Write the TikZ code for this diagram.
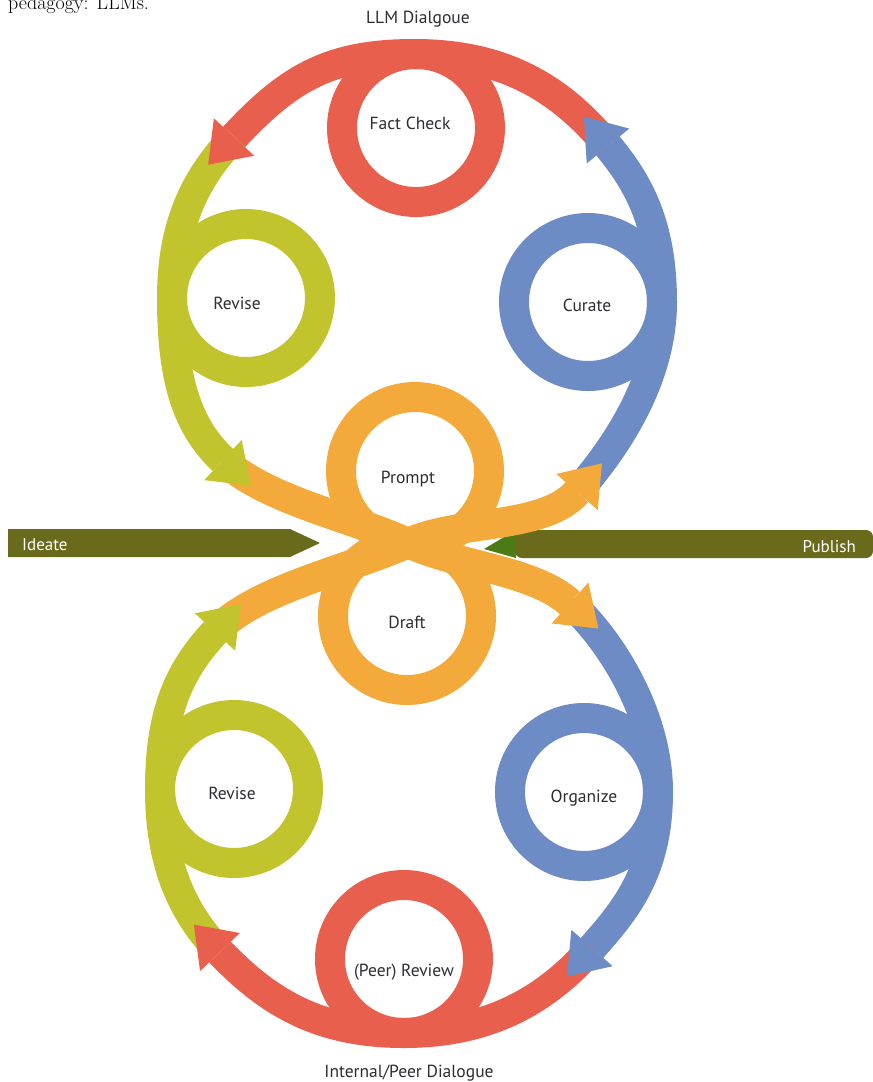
\documentclass[tikz,border=0pt]{standalone}
\usepackage{fontspec}
\newfontfamily\labfont{PT Sans}
\usetikzlibrary{calc}
\definecolor{cRed}{RGB}{233,95,78}
\definecolor{cGreen}{RGB}{193,196,44}
\definecolor{cBlue}{RGB}{109,139,196}
\definecolor{cOrange}{RGB}{244,170,58}
\definecolor{cOlive}{RGB}{106,106,28}
\definecolor{cText}{RGB}{45,45,50}
\begin{document}
\begin{tikzpicture}[x=1pt,y=-1pt,
  band/.style={line width=30pt},
  ring/.style={line width=30pt},
  lbl/.style={font=\labfont\fontsize{17.5}{20}\selectfont, text=cText, anchor=base, inner sep=0pt},
  barlbl/.style={font=\labfont\fontsize{17}{20}\selectfont, text=white, inner sep=0pt}]
\useasboundingbox (0,0) rectangle (873,1082);
\clip (0,0) rectangle (873,1082);
\fill[white] (0,0) rectangle (873,1082);

% cut-off caption line
\node[anchor=base west, inner sep=0pt, font=\fontsize{20}{24}\selectfont] (ped) at (8,9) {pedagogy: LLMs.};

% key points of the figure-eight
\coordinate (C) at (408,543);
\coordinate (bOB) at (577,492);   \coordinate (tOB) at (601.9,463.3);
\coordinate (bBR) at (608,146);   \coordinate (tBR) at (583.9,116.6);
\coordinate (bRG) at (234,137);   \coordinate (tRG) at (208.2,164.7);
\coordinate (bGO) at (223,460);   \coordinate (tGO) at (250.7,485.8);
\coordinate (bOB2) at (570,603);  \coordinate (tOB2) at (598.5,628.5);
\coordinate (bBR2) at (592,948);  \coordinate (tBR2) at (566.9,976.5);
\coordinate (bRG2) at (220,952);  \coordinate (tRG2) at (193.8,924.6);
\coordinate (bGO2) at (215,632);  \coordinate (tGO2) at (240.8,604.3);
\coordinate (R) at (662,302);  \coordinate (Top) at (414,54);  \coordinate (L) at (172,298);
\coordinate (R2) at (658,792); \coordinate (Bot) at (404,1033); \coordinate (L2) at (160,789);

% olive bar
\fill[cOlive] (8,529) -- (290,529) -- (320,543) -- (290,557) -- (8,557) -- cycle;
\fill[cOlive, rounded corners=7pt] (515,530) -- (873,530) -- (873,558) -- (515,558) -- cycle;
\fill[cOlive!80!green!90!black] (484,549) -- (516,530) -- (516,558) -- cycle;
\node[barlbl, anchor=west] (ideate) at (22,545) {Ideate};
\node[barlbl, anchor=east] (publish) at (856,547) {Publish};

% rings
\draw[ring, cRed] (416,128) circle[radius=74pt];
\draw[ring, cGreen] (246,298) circle[radius=74pt];
\draw[ring, cBlue] (588,302) circle[radius=74pt];
\draw[ring, cOrange] (415,471) circle[radius=74pt];
\draw[ring, cOrange] (407,616) circle[radius=74pt];
\draw[ring, cGreen] (234,789) circle[radius=74pt];
\draw[ring, cBlue] (584,792) circle[radius=74pt];
\draw[ring, cRed] (404,959) circle[radius=74pt];

% bands
\draw[band, cBlue] (bOB) .. controls (606.5,458) and (662,387) .. (R)
   .. controls (662,222) and (636.6,180.8) .. (bBR);
\draw[band, cRed] (bBR) .. controls (557.2,84.2) and (499,54) .. (Top)
   .. controls (329,54) and (288.4,78.6) .. (bRG);
\draw[band, cGreen] (bRG) .. controls (200,173.5) and (172,218) .. (L)
   .. controls (172,378) and (186.5,426) .. (bGO);
\draw[band, cBlue] (bOB2) .. controls (607.5,636.5) and (658,712) .. (R2)
   .. controls (658,872) and (625,910.5) .. (bBR2);
\draw[band, cRed] (bBR2) .. controls (545.8,1000.5) and (489,1033) .. (Bot)
   .. controls (319,1033) and (268.3,1002.4) .. (bRG2);
\draw[band, cGreen] (bRG2) .. controls (185.5,916) and (160,869) .. (L2)
   .. controls (160,709) and (181,668.5) .. (bGO2);
\draw[band, cOrange] (bGO) .. controls (266.8,500.8) and (353.6,517.6) .. (C)
   .. controls (457.8,566.3) and (532.5,569.5) .. (bOB2);
\draw[band, cOrange] (bGO2) .. controls (255.8,588.2) and (353.6,568.4) .. (C)
   .. controls (457.8,519.7) and (544.3,529.8) .. (bOB);

% arrowheads
\foreach \b/\t/\c in {bOB/tOB/cOrange, bBR/tBR/cBlue, bRG/tRG/cRed, bGO/tGO/cGreen,
                      bOB2/tOB2/cOrange, bBR2/tBR2/cBlue, bRG2/tRG2/cRed, bGO2/tGO2/cGreen}{
  \fill[\c] (\t) -- ($(\b)!27.5pt!90:(\t)$) -- ($(\b)!27.5pt!-90:(\t)$) -- cycle;
}

% labels
\node[lbl] (llm) at (418,23) {LLM Dialgoue};
\node[lbl] (fact) at (410,129) {Fact Check};
\node[lbl] (rev1) at (237,309) {Revise};
\node[lbl] (cur) at (587,311) {Curate};
\node[lbl] (prompt) at (408,483) {Prompt};
\node[lbl] (draft) at (407,628) {Draft};
\node[lbl] (rev2) at (232,799) {Revise};
\node[lbl] (org) at (584,802) {Organize};
\node[lbl] (peer) at (404,976) {(Peer) Review};
\node[lbl] (ipd) at (409,1077) {Internal/Peer Dialogue};
\end{tikzpicture}
\end{document}
